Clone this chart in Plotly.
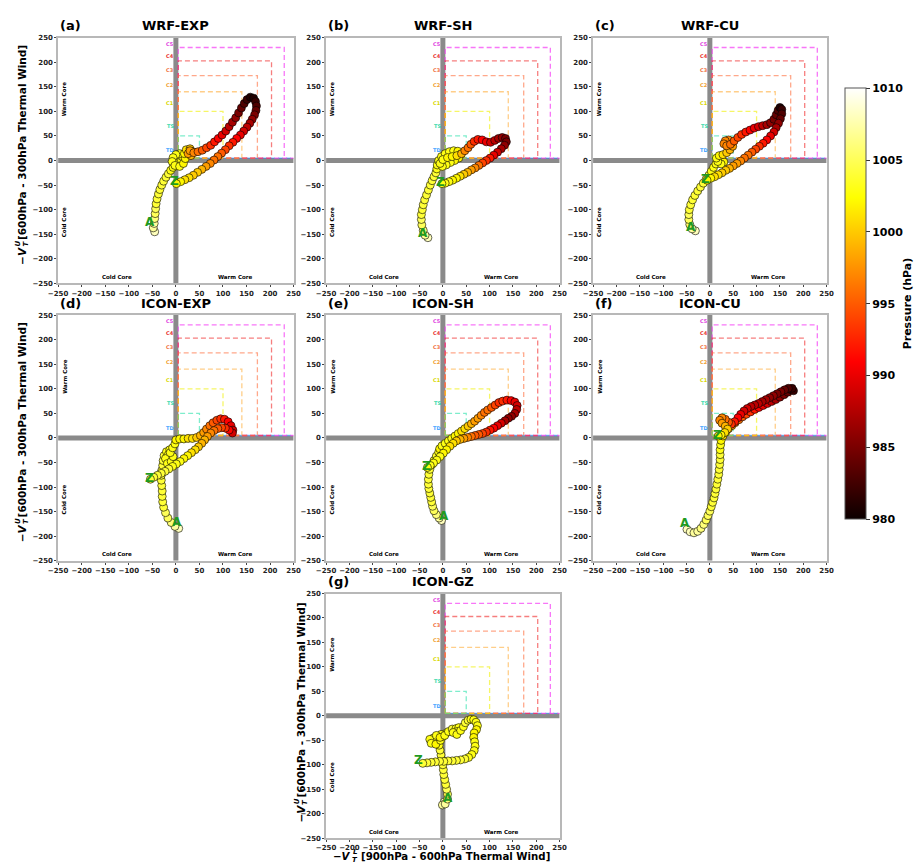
import plotly.graph_objects as go

# ---------------- data ----------------
panel_tags = ["(a)", "(b)", "(c)", "(d)", "(e)", "(f)", "(g)"]
panel_names = ["WRF-EXP", "WRF-SH", "WRF-CU", "ICON-EXP", "ICON-SH", "ICON-CU", "ICON-GZ"]

wrf_exp_x = [-45, -48, -46, -45, -44, -43, -42, -40, -37, -34, -30, -26, -21, -16, -11, -6,
             -2, 5, 12, 14, 8, 0, -6, -8, -2, 8, 16, 20, 18, 22, 30, 36, 32, 26, 30,
             38, 47, 56, 65, 74, 82, 90, 98, 106, 113, 120, 127, 133, 139, 145, 151, 158,
             165, 169, 171, 170, 167, 162, 157, 151, 144, 137, 129, 121, 113, 105, 97, 89,
             81, 73, 64, 55, 46, 37, 28, 19, 10, 1]
wrf_exp_y = [-145, -137, -128, -118, -108, -98, -88, -78, -68, -59, -50, -42, -34, -27, -20, -14,
             -8, -4, 0, 8, 14, 12, 6, -2, -10, -12, -6, 4, 14, 22, 24, 18, 10, 14, 20,
             16, 18, 21, 26, 31, 38, 45, 52, 60, 69, 78, 87, 97, 107, 116, 124, 129,
             127, 120, 111, 102, 93, 84, 76, 68, 60, 52, 45, 37, 30, 22, 15, 8,
             1, -6, -12, -18, -24, -30, -35, -39, -43, -47]
wrf_exp_p = [1008, 1007, 1007, 1006, 1005, 1005, 1004, 1004, 1004, 1004, 1004, 1004, 1004, 1004, 1003, 1003,
             1003, 1003, 1003, 1003, 1003, 1003, 1003, 1003, 1003, 1003, 1002, 1002, 1002, 1001, 1000, 999, 999, 998, 998,
             997, 996, 995, 994, 993, 992, 991, 990, 989, 988, 987, 986, 985, 984, 983, 982, 981,
             981, 982, 983, 984, 985, 986, 987, 988, 989, 990, 991, 992, 993, 994, 995, 996,
             996, 997, 998, 999, 1000, 1000, 1001, 1001, 1002, 1002]

wrf_sh_x = [-32, -38, -42, -45, -46, -46, -44, -42, -39, -35, -31, -27, -23, -19, -15, -13, -12,
            -9, -3, 5, 14, 23, 32, 39, 34, 25, 16, 7, -1, -6, 0, 10, 20, 30, 40,
            47, 54, 60, 67, 75, 84, 93, 102, 111, 119, 127, 134, 136, 132, 125, 117, 109, 101,
            93, 85, 77, 69, 61, 53, 45, 37, 29, 21, 13, 5, -2]
wrf_sh_y = [-157, -152, -142, -131, -120, -110, -100, -90, -80, -70, -60, -50, -41, -33, -25, -17, -9,
            0, 8, 14, 18, 20, 19, 13, 5, 0, -4, -9, -12, -6, 2, 6, 8, 10, 14,
            20, 26, 33, 39, 43, 42, 38, 37, 41, 45, 47, 45, 38, 31, 24, 17, 11, 5,
            0, -5, -10, -15, -19, -24, -28, -32, -36, -40, -43, -46, -47]
wrf_sh_p = [1008, 1007, 1006, 1005, 1005, 1004, 1004, 1004, 1004, 1004, 1004, 1004, 1004, 1004, 1004, 1003, 1003,
            1003, 1003, 1003, 1003, 1003, 1002, 1002, 1002, 1002, 1003, 1003, 1003, 1003, 1003, 1002, 1002, 1001, 999,
            997, 996, 995, 993, 992, 991, 990, 989, 988, 987, 986, 985, 985, 986, 987, 989, 990, 992,
            993, 994, 996, 997, 998, 999, 1000, 1001, 1002, 1002, 1003, 1003, 1003]

wrf_cu_x = [-31, -38, -43, -45, -45, -44, -41, -37, -32, -26, -20, -14, -8, -2, 3, 8,
            13, 19, 26, 30, 24, 17, 14, 20, 28, 36, 43, 49,
            47, 40, 33, 30, 36, 44, 52, 60, 68, 77, 86, 95, 104, 113, 122, 130, 137, 142, 146, 150,
            154, 154, 151, 147, 142, 137, 130, 122, 114, 106, 98, 90, 82, 74, 66, 58, 50, 42,
            34, 26, 18, 10, 2, -6]
wrf_cu_y = [-143, -139, -130, -120, -110, -100, -90, -80, -71, -62, -54, -46, -38, -30, -22, -14,
            -7, -1, 3, -3, -7, -2, 5, 10, 12, 16, 22, 29,
            37, 42, 40, 34, 30, 33, 40, 47, 53, 58, 62, 66, 69, 71, 73, 77, 84, 93, 102, 108,
            104, 95, 85, 76, 67, 58, 50, 42, 35, 29, 23, 17, 11, 5, -1, -6, -11, -16,
            -20, -25, -29, -33, -36, -40]
wrf_cu_p = [1008, 1007, 1006, 1005, 1005, 1004, 1004, 1004, 1004, 1004, 1004, 1004, 1004, 1004, 1003, 1003,
            1003, 1003, 1002, 1002, 1003, 1003, 1003, 1002, 1001, 1000, 999, 998,
            997, 997, 997, 997, 997, 996, 995, 994, 993, 992, 991, 990, 989, 988, 987, 986, 985, 984, 983, 981,
            982, 983, 984, 986, 987, 989, 990, 991, 992, 993, 994, 995, 996, 996, 997, 998, 998, 999,
            1000, 1000, 1001, 1001, 1002, 1002]

icon_exp_x = [6, -2, -10, -17, -22, -26, -28, -29, -29, -30, -31, -31, -30,
              -28, -27, -25, -20, -13, -16, -22, -18, -10, -6, -12, -7, -2, 0, 8, 17, 26, 35, 44,
              52, 59, 65, 72, 79, 87, 95, 103, 111, 117, 121, 120, 113, 105, 97, 89, 81, 74,
              67, 61, 55, 48, 41, 33, 25, 17, 9, 1, -7, -15, -23, -31, -39, -47, -54]
icon_exp_y = [-184, -180, -172, -163, -152, -141, -130, -119, -108, -97, -86, -76, -66,
              -56, -46, -36, -28, -24, -34, -42, -52, -48, -38, -30, -20, -12, -4, -2, -2, -1, -1, 1,
              5, 11, 18, 25, 31, 36, 39, 38, 33, 25, 16, 10, 16, 20, 21, 19, 15, 10,
              3, -4, -11, -18, -24, -30, -36, -42, -48, -53, -58, -63, -68, -72, -76, -80, -84]
icon_exp_p = [1008, 1007, 1006, 1005, 1005, 1004, 1004, 1004, 1004, 1004, 1004, 1004, 1004,
              1004, 1004, 1004, 1003, 1003, 1003, 1003, 1003, 1003, 1003, 1003, 1003, 1003, 1002, 1002, 1002, 1001, 1001, 1000,
              999, 998, 997, 996, 995, 994, 993, 992, 991, 990, 989, 989, 991, 993, 994, 995, 996, 997,
              998, 999, 999, 1000, 1001, 1001, 1002, 1002, 1003, 1003, 1003, 1004, 1004, 1004, 1004, 1004, 1004]

icon_sh_x = [-3, -8, -14, -19, -22, -24, -26, -28, -30, -31, -31, -30, -28, -24, -19, -14, -9, -7,
             -2, 5, 12, 19, 26, 33, 40, 47, 54, 61, 68, 75, 82, 89, 96, 104, 112, 120, 128, 137, 146,
             154, 159, 158, 154, 147, 140, 133, 125, 117, 109, 101, 93, 85, 77, 69, 61, 53, 45, 37,
             29, 22, 15, 8, 1, -6, -13, -20, -27, -33]
icon_sh_y = [-168, -163, -156, -148, -139, -130, -121, -112, -103, -94, -84, -74, -64, -55, -46, -37, -29, -22,
             -16, -11, -6, -1, 4, 9, 14, 19, 24, 29, 34, 40, 46, 52, 57, 62, 67, 72, 75, 77, 76,
             73, 66, 58, 50, 44, 40, 35, 30, 25, 20, 16, 12, 9, 7, 5, 3, 1, -1, -3,
             -6, -11, -17, -24, -31, -38, -45, -51, -56, -60]
icon_sh_p = [1008, 1007, 1006, 1005, 1005, 1004, 1004, 1004, 1004, 1004, 1004, 1004, 1004, 1004, 1004, 1004, 1003, 1002,
             1003, 1003, 1003, 1003, 1002, 1002, 1001, 1001, 1000, 999, 998, 998, 997, 996, 996, 995, 994, 993, 993, 992, 991,
             990, 989, 988, 987, 986, 986, 987, 989, 990, 991, 992, 993, 994, 995, 995, 996, 997, 998, 999,
             1000, 1001, 1001, 1002, 1002, 1003, 1003, 1003, 1003, 1003]

icon_cu_x = [-49, -42, -34, -26, -19, -13, -8, -4, 0, 3, 6, 9, 11, 13, 15, 17, 19, 20, 21, 22, 22, 22, 23, 24,
             28, 34, 40, 47, 54, 62, 70, 78, 87, 96, 105, 114, 123, 132, 141, 150, 159, 167, 174, 179,
             176, 168, 160, 152, 144, 136, 128, 120, 112, 104, 96, 88, 80, 73, 66, 60, 53, 46, 40, 33, 26, 21,
             26, 33, 38, 32, 24, 18]
icon_cu_y = [-186, -191, -193, -190, -184, -176, -167, -158, -149, -140, -131, -122, -113, -104, -94, -84, -74, -64,
             -54, -44, -34, -24, -14, -5,
             4, 12, 19, 25, 31, 37, 43, 48, 53, 58, 62, 66, 70, 74, 78, 83, 88, 93, 98, 96,
             101, 101, 98, 94, 90, 86, 82, 78, 74, 70, 67, 64, 60, 55, 48, 41, 33, 28, 32, 38, 41, 36,
             30, 24, 18, 11, 6, 4]
icon_cu_p = [1008, 1008, 1007, 1007, 1006, 1006, 1005, 1005, 1005, 1004, 1004, 1004, 1004, 1004, 1004, 1004, 1004, 1004,
             1004, 1004, 1004, 1003, 1003, 1002,
             1001, 1000, 999, 998, 997, 996, 995, 994, 993, 992, 991, 990, 989, 988, 987, 986, 985, 984, 983, 982,
             982, 983, 984, 985, 985, 986, 986, 987, 987, 988, 988, 988, 989, 989, 990, 991, 992, 993, 995, 996, 997, 997,
             998, 999, 1000, 1001, 1002, 1002]

icon_gz_x = [3, -1, 5, 10, 10, 8, 6, 4, 2, 1, 0, -2, -4, -6, -8,
             -12, -20, -28, -25, -15, -5, 0, 6, -4, -14, -6, 4, 12, 20, 28, 34, 30, 22, 30, 38, 44,
             48, 54, 60, 66, 71, 74, 72, 67, 66, 68, 69, 67, 62, 55, 47, 38, 29, 20, 11, 2, -7,
             -16, -25, -34, -43]
icon_gz_y = [-176, -182, -180, -170, -160, -150, -140, -130, -120, -110, -100, -90, -80, -70, -60,
             -50, -45, -48, -56, -58, -50, -42, -36, -38, -40, -44, -40, -32, -27, -26, -24, -32, -34, -38, -30, -22,
             -14, -9, -7, -8, -13, -20, -28, -35, -44, -53, -62, -71, -79, -85, -88, -90, -91, -92, -92, -93, -93,
             -94, -95, -96, -97]
icon_gz_p = [1008, 1007, 1007, 1006, 1005, 1005, 1004, 1004, 1004, 1004, 1004, 1004, 1004, 1004, 1003,
             1003, 1003, 1003, 1003, 1002, 1003, 1003, 1003, 1003, 1003, 1002, 1003, 1003, 1004, 1003, 1003, 1003, 1003, 1003, 1003, 1003,
             1004, 1004, 1003, 1003, 1003, 1003, 1002, 1002, 1002, 1003, 1003, 1003, 1003, 1003, 1004, 1004, 1004, 1004, 1004, 1004, 1004,
             1004, 1004, 1004, 1004]

tick_vals = [-250, -200, -150, -100, -50, 0, 50, 100, 150, 200, 250]
cbar_ticks = [980, 985, 990, 995, 1000, 1005, 1010]
cat_names = ["TD", "TS", "C1", "C2", "C3", "C4", "C5"]
cat_levels = [None, 50, 100, 140, 173, 203, 230]
cat_label_y = [21, 71, 117, 154, 185, 213, 237]

tracks = [
    (wrf_exp_x, wrf_exp_y, wrf_exp_p),
    (wrf_sh_x, wrf_sh_y, wrf_sh_p),
    (wrf_cu_x, wrf_cu_y, wrf_cu_p),
    (icon_exp_x, icon_exp_y, icon_exp_p),
    (icon_sh_x, icon_sh_y, icon_sh_p),
    (icon_cu_x, icon_cu_y, icon_cu_p),
    (icon_gz_x, icon_gz_y, icon_gz_p),
]

# ---------------- styling / layout ----------------
W, H = 922, 866
FONT = "DejaVu Sans"
col_px = [(49, 289), (322, 560), (594, 832)]
row_px = [(34, 282), (314, 562), (595, 842)]
grid_pos = [(0, 0), (0, 1), (0, 2), (1, 0), (1, 1), (1, 2), (2, 1)]
cat_colors = ["rgba(30,144,255,0.55)", "rgba(40,225,170,0.6)", "rgba(240,240,0,0.6)",
              "rgba(255,165,40,0.55)", "rgba(255,110,60,0.6)", "rgba(240,40,40,0.6)",
              "rgba(245,60,245,0.7)"]
cat_text_colors = ["#3aa0ff", "#30d8a8", "#d8d800", "#f0a030", "#f07040", "#e83030", "#e040e0"]
a_shift = [(-5, 10), (-5, 5), (-4, 4), (-2, 6), (3, 5), (-2, 6), (4, 4)]
z_shift = [(-2, 3), (-1, 2), (-2, 1), (-1, 1), (-1, 1), (-1, 1), (-4, 3)]
green = "#1f9a1f"
hot = [[0.0, "rgb(11,0,0)"], [0.365, "rgb(255,0,0)"], [0.746, "rgb(255,255,0)"], [1.0, "rgb(255,255,255)"]]

fig = go.Figure()
annotations = []
shapes = []


def px_x(p):
    return p / W


def px_y(p):
    return 1 - p / H


for i, (tx, ty, tp) in enumerate(tracks):
    k = i + 1
    r, c = grid_pos[i]
    xs = "" if k == 1 else str(k)
    xa, ya = "x" + xs, "y" + xs
    dx = [px_x(col_px[c][0]), px_x(col_px[c][1])]
    dy = [px_y(row_px[r][1]), px_y(row_px[r][0])]
    axis_common = dict(range=[-250, 250], tickvals=tick_vals, showgrid=False, zeroline=False,
                       showline=True, mirror=True, linecolor="#b8b8b8", linewidth=1.5,
                       ticks="outside", ticklen=2, tickwidth=1, tickcolor="#444",
                       tickfont=dict(family=FONT, size=7, color="#222", weight="bold"),
                       fixedrange=True)
    fig.update_layout(**{
        "xaxis" + xs: dict(domain=dx, anchor=ya, **axis_common),
        "yaxis" + xs: dict(domain=dy, anchor=xa, **axis_common),
    })

    # grey zero axes
    shapes.append(dict(type="line", xref=xa, yref=ya, x0=0, x1=0, y0=-250, y1=250,
                       line=dict(color="#8a8a8a", width=5), layer="below"))
    shapes.append(dict(type="line", xref=xa, yref=ya, x0=-250, x1=250, y0=0, y1=0,
                       line=dict(color="#8a8a8a", width=5), layer="below"))
    # intensity boxes (largest first so smaller ones are on top)
    shapes.append(dict(type="path", xref=xa, yref=ya, path="M 5 30 L 5 5 L 250 5",
                       line=dict(color=cat_colors[0], width=1.3, dash="5px,3px"), layer="below"))
    for j in range(len(cat_levels) - 1, 0, -1):
        v = cat_levels[j]
        xend = 250 if j == len(cat_levels) - 1 else v
        path = f"M 5 5 L 5 {v} L {v} {v} L {v} 5 M 5 5 L {xend} 5"
        shapes.append(dict(type="path", xref=xa, yref=ya, path=path,
                           line=dict(color=cat_colors[j], width=1.3, dash="5px,3px"), layer="below"))
    for j, nm in enumerate(cat_names):
        annotations.append(dict(xref=xa, yref=ya, x=-12, y=cat_label_y[j], text=nm, showarrow=False,
                                font=dict(family=FONT, size=5, color=cat_text_colors[j], weight="bold")))

    # core labels
    core_font = dict(family=FONT, size=5.5, color="black", weight="bold")
    annotations += [
        dict(xref=xa, yref=ya, x=-237, y=125, text="Warm Core", textangle=-90, showarrow=False, font=core_font),
        dict(xref=xa, yref=ya, x=-237, y=-125, text="Cold Core", textangle=-90, showarrow=False, font=core_font),
        dict(xref=xa, yref=ya, x=-125, y=-237, text="Cold Core", showarrow=False, font=core_font),
        dict(xref=xa, yref=ya, x=125, y=-237, text="Warm Core", showarrow=False, font=core_font),
    ]

    fig.add_trace(go.Scatter(
        x=tx, y=ty, mode="markers", xaxis=xa, yaxis=ya, showlegend=False,
        marker=dict(size=8, color=tp, coloraxis="coloraxis", line=dict(color="black", width=0.6)),
    ))

    # A / Z labels
    lab_font = dict(family=FONT, size=12, color=green, weight="bold")
    annotations.append(dict(xref=xa, yref=ya, x=tx[0], y=ty[0], text="A", showarrow=False,
                            xshift=a_shift[i][0], yshift=a_shift[i][1], font=lab_font))
    annotations.append(dict(xref=xa, yref=ya, x=tx[-1], y=ty[-1], text="Z", showarrow=False,
                            xshift=z_shift[i][0], yshift=z_shift[i][1], font=lab_font))

    # titles
    ty_px = row_px[r][0] - 12
    annotations.append(dict(xref="paper", yref="paper", x=px_x(col_px[c][0]), y=px_y(ty_px),
                            xanchor="left", yanchor="middle", text=panel_tags[i], showarrow=False,
                            font=dict(family=FONT, size=13, color="black", weight="bold")))
    annotations.append(dict(xref="paper", yref="paper", x=px_x((col_px[c][0] + col_px[c][1]) / 2),
                            y=px_y(ty_px), xanchor="center", yanchor="middle", text=panel_names[i],
                            showarrow=False, font=dict(family=FONT, size=13, color="black", weight="bold")))

# ---- axis titles: -V with stacked sub/superscript, then bracketed description ----
scfont = dict(family=FONT, size=7, color="black", weight="bold")


def add_title(sup, desc, vertical, across, start, size):
    """across: pixel coordinate perpendicular to reading direction;
    start: pixel coordinate where the text begins (left end, or bottom end if vertical)."""
    mfont = dict(family=FONT, size=size, color="black", weight="bold")
    pieces = [("−<i>V</i>", mfont, 9.5, 0), ("<i>" + sup + "</i>", scfont, 22, -4),
              ("<i>T</i>", scfont, 22, 4), (desc, mfont, 124.5, 0)]
    for text, fnt, s, off in pieces:
        if vertical:
            ax_px, ay_px, ang = across + off, start - s, -90
        else:
            ax_px, ay_px, ang = start + s, across + off, 0
        annotations.append(dict(xref="paper", yref="paper", x=px_x(ax_px), y=px_y(ay_px), text=text,
                                textangle=ang, showarrow=False, xanchor="center", yanchor="middle",
                                borderpad=0, font=fnt))


ydesc = "[600hPa - 300hPa Thermal Wind]"
xdesc = "[900hPa - 600hPa Thermal Wind]"
add_title("U", ydesc, True, 12, 158 + 106, 10.5)
add_title("U", ydesc, True, 12, 438 + 106, 10.5)
add_title("U", ydesc, True, 296, 718 + 109, 10.5)
add_title("L", xdesc, False, 860, 441 - 112, 10.2)

annotations.append(dict(xref="paper", yref="paper", x=px_x(914), y=px_y(302), text="Pressure (hPa)",
                        textangle=-90, showarrow=False, xanchor="center", yanchor="middle",
                        font=dict(family=FONT, size=11, color="black", weight="bold")))

fig.update_layout(
    width=W, height=H, margin=dict(l=0, r=0, t=0, b=0),
    paper_bgcolor="white", plot_bgcolor="white",
    font=dict(family=FONT),
    showlegend=False,
    shapes=shapes, annotations=annotations,
    coloraxis=dict(
        colorscale=hot, cmin=980, cmax=1010,
        colorbar=dict(
            x=px_x(851), xanchor="left", xpad=0, ypad=0,
            y=px_y(302.5), yanchor="middle",
            len=431, lenmode="pixels", thickness=21, thicknessmode="pixels",
            outlinewidth=1, outlinecolor="#555", tickvals=cbar_ticks, ticks="outside", ticklen=4,
            tickcolor="#333",
            tickfont=dict(family=FONT, size=11, color="black", weight="bold"),
        ),
    ),
)

fig.write_html("out.html", config={"displayModeBar": False},
               post_script="document.body.style.margin='0';document.body.style.overflow='hidden';")
